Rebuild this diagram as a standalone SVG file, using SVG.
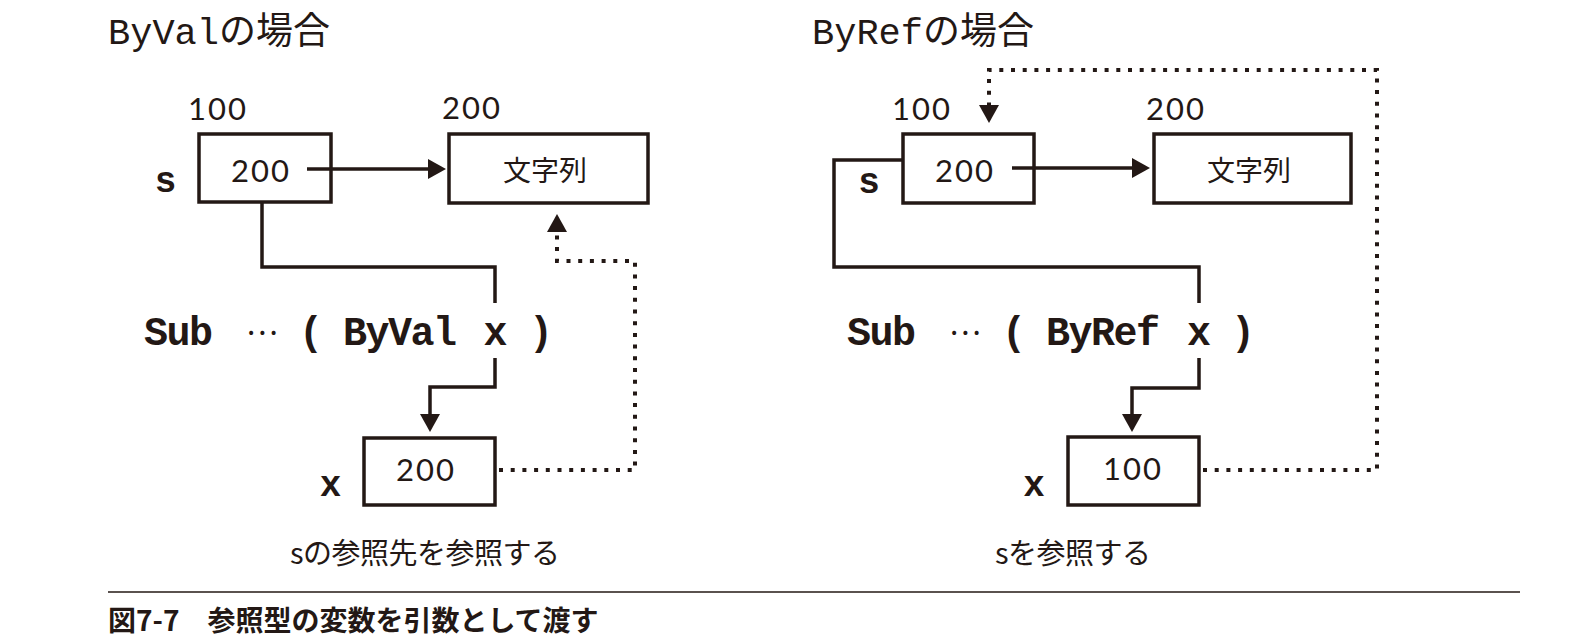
<svg xmlns="http://www.w3.org/2000/svg" width="1586" height="641" viewBox="0 0 1586 641">
<style>
  .bg{fill:#ffffff}
  .box{fill:#ffffff;stroke:#231815;stroke-width:3.5}
  .ln{fill:none;stroke:#231815;stroke-width:3.5;stroke-linejoin:miter}
  .dot{fill:none;stroke:#231815;stroke-width:4;stroke-dasharray:4 7.7}
  .title{font-family:"Liberation Mono","Noto Sans CJK JP",monospace;font-size:37px;fill:#231815}
  .num{font-family:"Lato","Liberation Sans",sans-serif;font-weight:400;font-size:31px;letter-spacing:2px;fill:#231815}
  .jp{font-family:"Noto Sans CJK JP",sans-serif;font-size:28px;fill:#231815}
  .note{font-family:"Noto Sans CJK JP",sans-serif;font-size:29px;letter-spacing:-0.5px;fill:#231815}
  .var{font-family:"Liberation Mono",monospace;font-weight:bold;font-size:36px;fill:#231815;text-anchor:middle}
  .code{font-family:"Liberation Mono",monospace;font-weight:bold;font-size:40px;letter-spacing:-1.5px;fill:#231815}
  .ell{font-family:"Noto Sans CJK JP",sans-serif;font-weight:normal;font-size:30px;letter-spacing:0}
  .cap{font-family:"Noto Sans CJK JP",sans-serif;font-weight:700;font-size:28px;fill:#231815}
  .rule{stroke:#231815;stroke-width:1.5}
</style>
<defs>
  <marker id="ah" viewBox="0 0 18 20" refX="2" refY="10" markerWidth="18" markerHeight="20" markerUnits="userSpaceOnUse" orient="auto">
    <path d="M0,0 L18,10 L0,20 Z" fill="#231815"/>
  </marker>
</defs>
<rect class="bg" x="0" y="0" width="1586" height="641"/>

<!-- ByVal side -->
<g id="byval-title"><text class="title" x="108" y="44">ByValの場合</text></g>

<g id="byval-s">
  <text class="num" x="188" y="120">100</text>
  <rect class="box" x="199" y="134" width="132" height="68"/>
  <text class="num" x="231" y="182">200</text>
  <text class="var" x="165.5" y="192">s</text>
</g>

<g id="byval-str">
  <text class="num" x="442" y="119">200</text>
  <rect class="box" x="449" y="134" width="199" height="69"/>
  <text class="jp" x="545" y="181" text-anchor="middle">文字列</text>
</g>

<g id="byval-sub">
  <text class="code" y="345"><tspan x="144">Sub</tspan> <tspan class="ell" x="246" dy="-10">…</tspan> <tspan x="299" dy="10">(</tspan> <tspan x="343">ByVal</tspan> <tspan x="483.5">x</tspan> <tspan x="529">)</tspan></text>
</g>

<g id="byval-x">
  <rect class="box" x="364" y="438" width="131" height="67"/>
  <text class="num" x="396" y="481">200</text>
  <text class="var" x="330.5" y="496">x</text>
</g>

<g id="byval-note"><text class="note" x="290" y="564">sの参照先を参照する</text></g>

<!-- ByRef side -->
<g id="byref-title"><text class="title" x="812" y="44">ByRefの場合</text></g>

<g id="byref-s">
  <text class="num" x="892" y="120">100</text>
  <rect class="box" x="903" y="134" width="131" height="69"/>
  <text class="num" x="935" y="182">200</text>
  <text class="var" x="869" y="193">s</text>
</g>

<g id="byref-str">
  <text class="num" x="1146" y="120">200</text>
  <rect class="box" x="1154" y="134" width="197" height="69"/>
  <text class="jp" x="1249" y="181" text-anchor="middle">文字列</text>
</g>

<g id="byref-sub">
  <text class="code" y="345"><tspan x="847">Sub</tspan> <tspan class="ell" x="949" dy="-10">…</tspan> <tspan x="1002" dy="10">(</tspan> <tspan x="1046">ByRef</tspan> <tspan x="1187">x</tspan> <tspan x="1231">)</tspan></text>
</g>

<g id="byref-x">
  <rect class="box" x="1068" y="437" width="131" height="68"/>
  <text class="num" x="1103" y="480">100</text>
  <text class="var" x="1034" y="496">x</text>
</g>

<g id="byref-note"><text class="note" x="995" y="564">sを参照する</text></g>

<!-- connectors -->
<g id="connectors">
  <path class="ln" d="M307,169 H430" marker-end="url(#ah)"/>
  <path class="ln" d="M262,203 V267 H495 V303"/>
  <path class="ln" d="M495,358 V387 H430 V416" marker-end="url(#ah)"/>
  <path class="dot" d="M499,470 H635 V261 H557 V230" marker-end="url(#ah)"/>

  <path class="ln" d="M1012,168 H1134" marker-end="url(#ah)"/>
  <path class="ln" d="M903,160 H834 V267 H1199 V303"/>
  <path class="ln" d="M1199,358 V388 H1132 V416" marker-end="url(#ah)"/>
  <path class="dot" d="M1203,470 H1377 V70 H989 V107" marker-end="url(#ah)"/>
</g>

<!-- caption -->
<g id="caption">
  <line class="rule" x1="108" y1="592" x2="1520" y2="592"/>
  <text class="cap" x="108" y="631">図7-7　参照型の変数を引数として渡す</text>
</g>
</svg>
